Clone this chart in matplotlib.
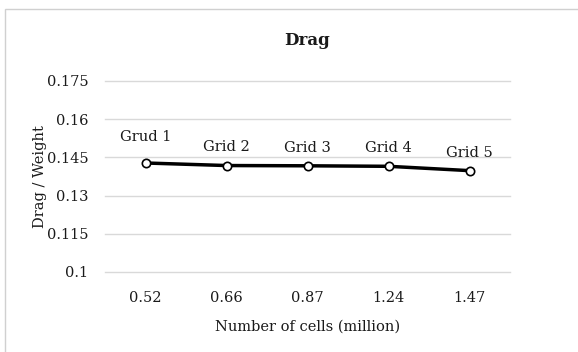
import matplotlib.pyplot as plt
from matplotlib.patches import Rectangle

cells = ['0.52', '0.66', '0.87', '1.24', '1.47']
drag_weight = [0.1428, 0.1418, 0.1417, 0.1415, 0.1398]
grid_labels = ['Grud 1', 'Grid 2', 'Grid 3', 'Grid 4', 'Grid 5']
y_ticks = [0.1, 0.115, 0.13, 0.145, 0.16, 0.175]
y_tick_labels = ['0.1', '0.115', '0.13', '0.145', '0.16', '0.175']

plt.rcParams['font.family'] = ['DejaVu Serif']
text_color = '#1a1a1a'

fig = plt.figure(figsize=(5.78, 3.52), dpi=100)
ax = fig.add_axes([0.1817, 0.2273, 0.7007, 0.5426])

# outer chart border like the Excel chart area
fig.patches.append(Rectangle((0.008, -0.01), 1.0, 0.985, transform=fig.transFigure,
                             fill=False, edgecolor='#d0d0d0', linewidth=1.0))

x = [i + 0.5 for i in range(len(cells))]
ax.plot(x, drag_weight, color='black', linewidth=2.5, marker='o', markersize=6,
        markerfacecolor='white', markeredgecolor='black', markeredgewidth=1.2, zorder=3)

offsets = [14, 8, 8, 8, 8]
for xi, yi, lab, off in zip(x, drag_weight, grid_labels, offsets):
    ax.annotate(lab, (xi, yi), xytext=(0, off), textcoords='offset points',
                ha='center', va='bottom', fontsize=10.5, color=text_color)

ax.set_xlim(0, len(cells))
ax.set_ylim(0.1, 0.175)
ax.set_xticks(x)
ax.set_xticklabels(cells)
ax.set_yticks(y_ticks)
ax.set_yticklabels(y_tick_labels)
ax.tick_params(length=0, labelsize=10.5, colors=text_color, pad=14)
ax.tick_params(axis='y', pad=12)
ax.grid(axis='y', color='#d9d9d9', linewidth=1.0)
for gl in ax.get_ygridlines():
    gl.set_clip_on(False)
ax.set_axisbelow(True)
for s in ax.spines.values():
    s.set_visible(False)

ax.set_title('Drag', fontsize=12, fontweight='bold', color=text_color, pad=26)
ax.set_xlabel('Number of cells (million)', fontsize=10.5, color=text_color, labelpad=10)
ax.set_ylabel('Drag / Weight', fontsize=10.5, color=text_color, labelpad=0)

fig.savefig('out.png', dpi=100)
